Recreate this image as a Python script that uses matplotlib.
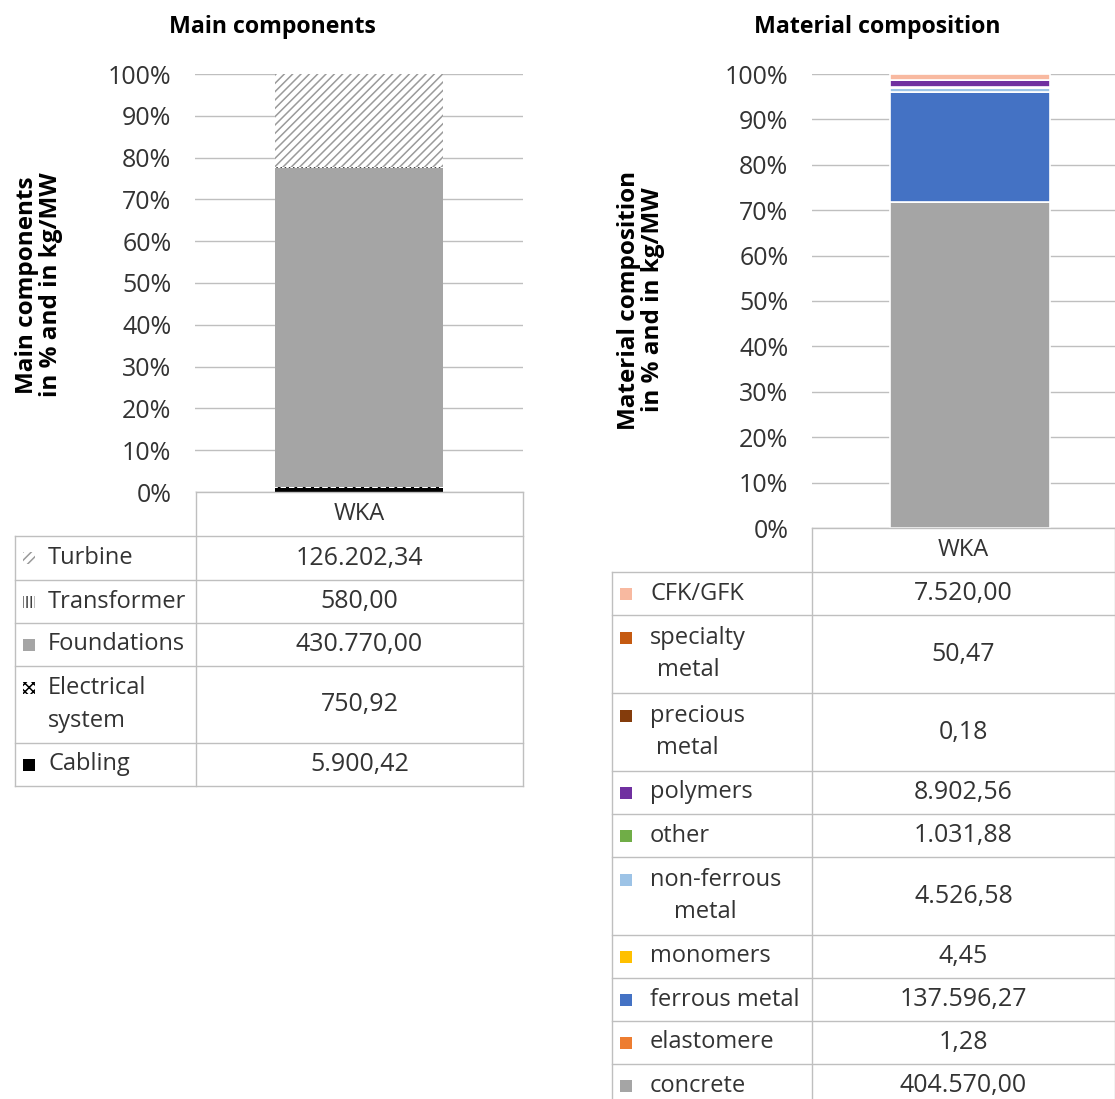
import matplotlib
matplotlib.use("Agg")
import matplotlib.pyplot as plt
from matplotlib.patches import Rectangle
from matplotlib.lines import Line2D
import numpy as np

plt.rcParams['font.family'] = ['Open Sans', 'DejaVu Sans']
plt.rcParams['hatch.linewidth'] = 1.1

# ---- data -------------------------------------------------------------
category = "WKA"

comp_labels = ["Cabling", "Electrical\nsystem", "Foundations", "Transformer", "Turbine"]
comp_values = [5900.42, 750.92, 430770.00, 580.00, 126202.34]
comp_colors = ["#000000", "#ffffff", "#a5a5a5", "#ffffff", "#ffffff"]
comp_hatch = [None, "xxxx", None, "||||", "////"]
comp_hcolor = ["#000000", "#000000", "#a5a5a5", "#404040", "#9a9a9a"]

mat_labels = ["concrete", "elastomere", "ferrous metal", "monomers", "non-ferrous\nmetal",
              "other", "polymers", "precious\nmetal", "specialty\nmetal", "CFK/GFK"]
mat_values = [404570.00, 1.28, 137596.27, 4.45, 4526.58,
              1031.88, 8902.56, 0.18, 50.47, 7520.00]
mat_colors = ["#a5a5a5", "#ed7d31", "#4472c4", "#ffc000", "#9dc3e6",
              "#70ad47", "#7030a0", "#843c0c", "#c55a11", "#f8b9a0"]

pct_ticks = [0, 10, 20, 30, 40, 50, 60, 70, 80, 90, 100]

W, H = 1115, 1099
fig = plt.figure(figsize=(W / 100, H / 100), dpi=100)


def fx(x):
    return x / W


def fy(y):
    return 1 - y / H


def de_fmt(v):
    s = f"{v:,.2f}"
    return s.replace(",", "#").replace(".", ",").replace("#", ".")


GRID = "#bfbfbf"
TXT = "#333333"
LAB_FS = 17
VAL_FS = 18
TICK_FS = 18
TITLE_FS = 16.7
YLAB_FS = 17.5


def stacked_axes(left, right, top, bottom, width_frac, values, colors, hatches=None,
                 hcolors=None, edge="white"):
    ax = fig.add_axes([fx(left), fy(bottom), fx(right - left), (bottom - top) / H])
    pct = np.array(values) / np.sum(values) * 100
    bottoms = np.concatenate([[0], np.cumsum(pct)[:-1]])
    for i, (p, b) in enumerate(zip(pct, bottoms)):
        h = hatches[i] if hatches else None
        if h:
            ax.bar(0, p, bottom=b, width=width_frac, color=colors[i], hatch=h,
                   edgecolor=hcolors[i], linewidth=0, zorder=3)
        else:
            ax.bar(0, p, bottom=b, width=width_frac, color=colors[i],
                   edgecolor=edge, linewidth=1.2 if edge else 0, zorder=3)
    ax.set_xlim(-0.5, 0.5)
    ax.set_ylim(0, 100)
    ax.set_yticks(pct_ticks)
    ax.set_yticklabels([f"{t}%" for t in pct_ticks], fontsize=TICK_FS, color=TXT)
    ax.yaxis.grid(True, color=GRID, linewidth=1.0, zorder=0)
    ax.tick_params(axis="y", length=0, pad=17)
    ax.set_xticks([])
    for s in ax.spines.values():
        s.set_visible(False)
    return ax


def hline(x0, x1, y):
    fig.add_artist(Line2D([fx(x0), fx(x1)], [fy(y), fy(y)], color=GRID, lw=1.0))


def vline(x, y0, y1):
    fig.add_artist(Line2D([fx(x), fx(x)], [fy(y0), fy(y1)], color=GRID, lw=1.0))


renderer = fig.canvas.get_renderer()


def legend_table(x0, xm, x1, y_top, row_edges, labels, values, colors,
                 hatches=None, hcolors=None, text_dx=34):
    # header row
    hline(xm, x1, y_top)
    fig.text(fx((xm + x1) / 2), fy((y_top + row_edges[0]) / 2), category,
             ha="center", va="center", fontsize=LAB_FS, color=TXT)
    vline(xm, y_top, row_edges[-1])
    vline(x1, y_top, row_edges[-1])
    vline(x0, row_edges[0], row_edges[-1])
    for y in row_edges:
        hline(x0, x1, y)
    for i in range(len(labels)):
        ya, yb = row_edges[i], row_edges[i + 1]
        yc = (ya + yb) / 2
        lines = labels[i].split("\n")
        n = len(lines)
        lh = 33
        y_first = yc - (n - 1) * lh / 2
        # legend key
        sz = 12
        h = hatches[i] if hatches else None
        sx = x0 + 8
        rect = Rectangle((fx(sx), fy(y_first + sz / 2)), sz / W, sz / H,
                         transform=fig.transFigure, facecolor=colors[i],
                         hatch=h, edgecolor=(hcolors[i] if h else "none"),
                         linewidth=0)
        fig.add_artist(rect)
        t0 = fig.text(fx(x0 + text_dx), fy(y_first), lines[0], ha="left", va="center",
                      fontsize=LAB_FS, color=TXT)
        if n > 1:
            bb = t0.get_window_extent(renderer=renderer)
            cx = (bb.x0 + bb.x1) / 2 - 10
            for k, ln in enumerate(lines[1:], start=1):
                fig.text(cx / W, fy(y_first + k * lh), ln, ha="center",
                         va="center", fontsize=LAB_FS, color=TXT)
        fig.text(fx((xm + x1) / 2), fy(yc), de_fmt(values[i]), ha="center",
                 va="center", fontsize=VAL_FS, color=TXT)


# ---- left: main components --------------------------------------------
axL = stacked_axes(195, 523, 74, 492, 0.512, comp_values, comp_colors,
                   comp_hatch, comp_hcolor, edge=None)
fig.text(fx(272), fy(27), "Main components", ha="center", va="center",
         fontsize=TITLE_FS, fontweight="bold", color="black")
fig.text(fx(39), fy(285), "Main components\nin % and in kg/MW", ha="center",
         va="center", rotation=90, fontsize=YLAB_FS, fontweight="bold",
         color="black", linespacing=0.95)

left_rows = [536, 580, 623, 666, 743, 786]
order = [4, 3, 2, 1, 0]
legend_table(15, 196, 523, 492, left_rows,
             [comp_labels[i] for i in order], [comp_values[i] for i in order],
             [comp_colors[i] for i in order],
             [comp_hatch[i] for i in order], [comp_hcolor[i] for i in order],
             text_dx=33)

# ---- right: material composition --------------------------------------
axR = stacked_axes(812, 1128, 74, 528, 0.506, mat_values, mat_colors, edge="white")
fig.text(fx(877), fy(27), "Material composition", ha="center", va="center",
         fontsize=TITLE_FS, fontweight="bold", color="black")
fig.text(fx(641), fy(300), "Material composition\nin % and in kg/MW", ha="center",
         va="center", rotation=90, fontsize=YLAB_FS, fontweight="bold",
         color="black", linespacing=0.95)

right_rows = [572, 615, 693, 771, 814, 857, 935, 978, 1021, 1064, 1107]
rorder = list(range(len(mat_labels)))[::-1]
legend_table(612, 812, 1115, 528, right_rows,
             [mat_labels[i] for i in rorder], [mat_values[i] for i in rorder],
             [mat_colors[i] for i in rorder], text_dx=38)

fig.savefig("out.png", dpi=100)
